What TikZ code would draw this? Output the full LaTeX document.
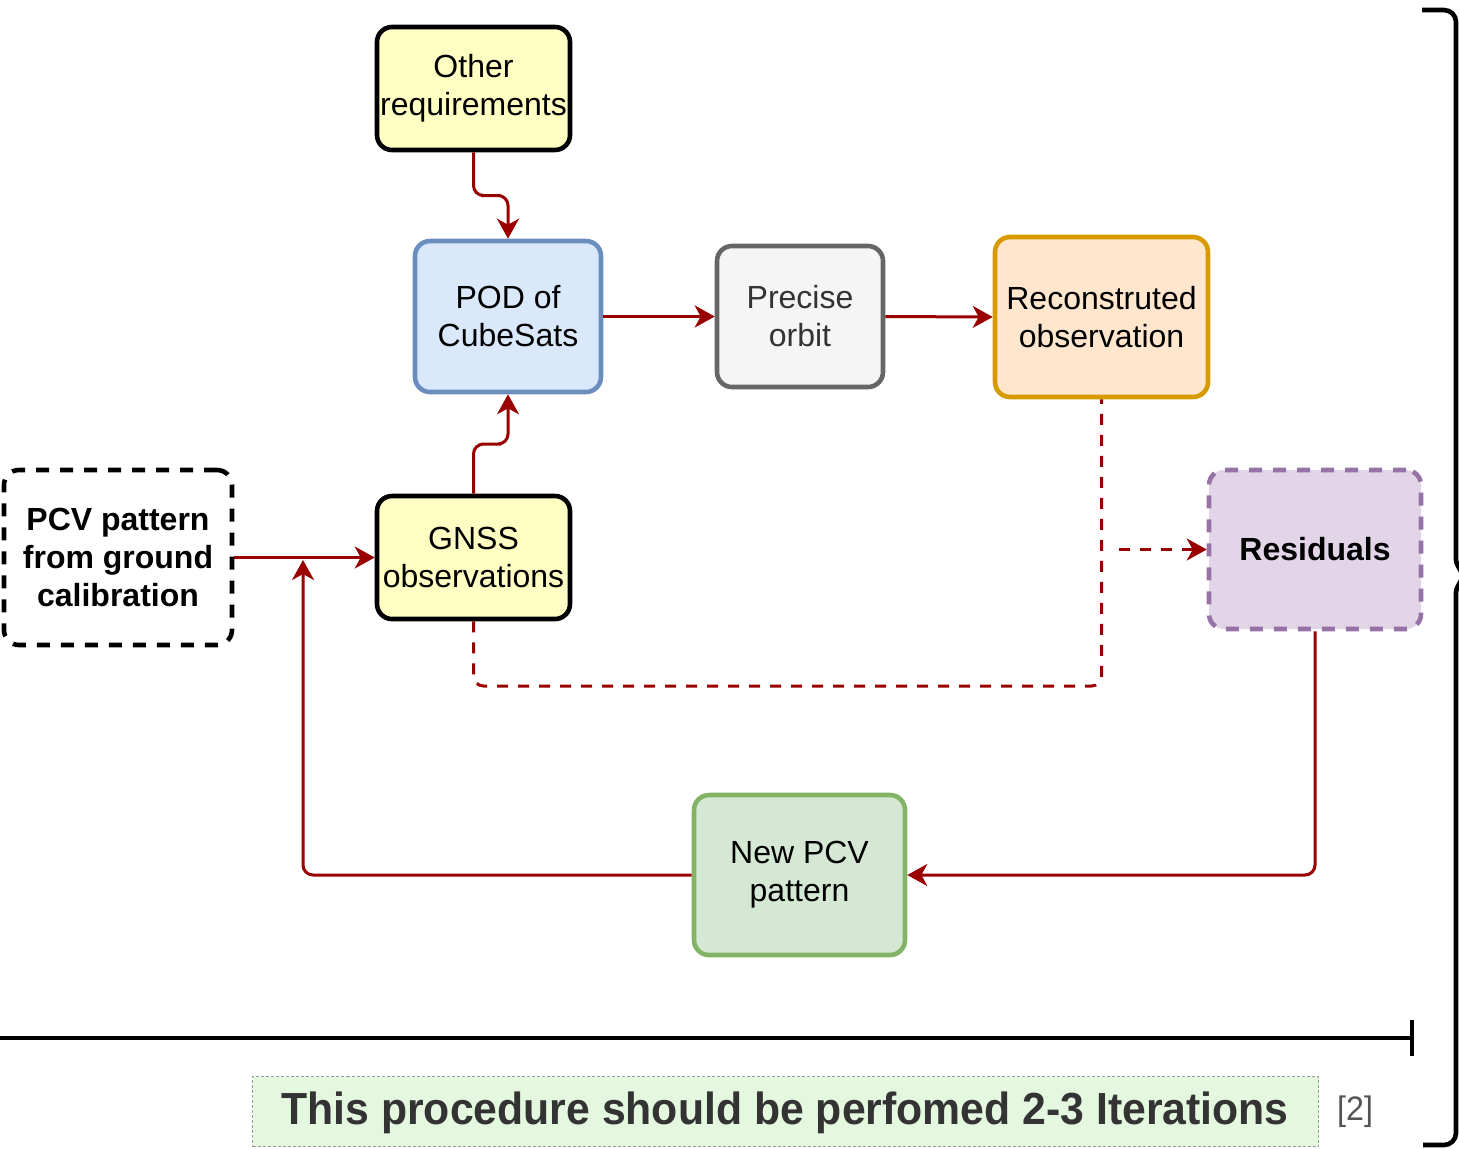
\documentclass[tikz,border=0pt]{standalone}
\usepackage{fontspec}
\setmainfont{Liberation Sans}
\newfontfamily\narrowfont[FakeStretch=0.95]{Liberation Sans}
\usetikzlibrary{arrows.meta,calc}
\definecolor{yel}{HTML}{FFFFC4}
\definecolor{podfill}{HTML}{DAE8FC}
\definecolor{podline}{HTML}{6C8EBF}
\definecolor{prefill}{HTML}{F5F5F5}
\definecolor{preline}{HTML}{666666}
\definecolor{recfill}{HTML}{FFE6CC}
\definecolor{recline}{HTML}{D79B00}
\definecolor{resfill}{HTML}{E1D5E7}
\definecolor{resline}{HTML}{9673A6}
\definecolor{newfill}{HTML}{D5E8D4}
\definecolor{newline}{HTML}{82B366}
\definecolor{darkred}{HTML}{990000}
\definecolor{notefill}{HTML}{E3F8DE}
\definecolor{notetext}{HTML}{333333}
\definecolor{reftext}{HTML}{555555}
\begin{document}
\begin{tikzpicture}[x=0.5pt,y=-0.5pt,
  box/.style={rounded corners=7.5pt, line width=2.3pt, align=center, inner sep=0pt,
    font=\fontsize{16pt}{19pt}\selectfont},
  bdash/.style={dash pattern=on 6.5pt off 5.5pt},
  conn/.style={draw=darkred, line width=1.5pt, rounded corners=5pt,
    -{Stealth[length=10pt,width=11pt,inset=3pt]}},
  rdash/.style={dash pattern=on 5.5pt off 5pt}]
\useasboundingbox (0,0) rectangle (1459,1148);

\node[box, draw=black, fill=yel, minimum width=96.5pt, minimum height=61.5pt] (other) at (473.5,88.5) {Other\\requirements};
\node[box, draw=podline, fill=podfill, minimum width=93pt, minimum height=75.5pt] (pod) at (508,316.5) {POD of\\CubeSats};
\node[box, draw=preline, fill=prefill, text=notetext, minimum width=83pt, minimum height=70.5pt] (precise) at (800,316.5) {Precise\\orbit};
\node[box, draw=recline, fill=recfill, minimum width=106.5pt, minimum height=80pt] (recon) at (1101.5,317) {Reconstruted\\observation};
\node[box, draw=black, fill=yel, minimum width=96.5pt, minimum height=61.5pt] (gnss) at (473.5,557.5) {GNSS\\observations};
\node[box, bdash, draw=black, fill=white, minimum width=114pt, minimum height=87.5pt, font=\fontsize{16pt}{19pt}\selectfont\bfseries] (pcv) at (118,557.5) {PCV pattern\\from ground\\calibration};
\node[box, bdash, draw=resline, fill=resfill, minimum width=106pt, minimum height=79.5pt, font=\fontsize{16pt}{19pt}\selectfont\bfseries] (res) at (1315,549.5) {Residuals};
\node[box, draw=newline, fill=newfill, minimum width=105.5pt, minimum height=80pt] (newpcv) at (799.5,875) {New PCV\\pattern};

% connectors
\draw[conn] (other.south) |- ($(other.south)!0.5!(pod.north)$) -| (pod.north);
\draw[conn] (gnss.north) |- ($(gnss.north)!0.5!(pod.south)$) -| (pod.south);
\draw[conn] (pod.east) -- (precise.west);
\draw[conn] (precise.east) -- (recon.west);
\draw[conn] (pcv.east) -- (gnss.west);
\draw[conn] (res.south) |- (newpcv.east);
\coordinate (join) at (303,560);
\draw[conn] (newpcv.west) -| (join);
\coordinate (dl) at (1101.5,686);
\draw[draw=darkred, line width=1.5pt, rounded corners=5pt, rdash] (gnss.south) |- (dl) -- (recon.south);
\coordinate (ds) at (1119,549.5);
\draw[conn, rdash] (ds) -- (res.west);

% iteration line
\draw[line width=2.2pt] (0,1038) -- (1412,1038);
\draw[line width=2.2pt] (1412,1020) -- (1412,1056);

% brace
\draw[line width=2.3pt, rounded corners=6pt] (1422,10) -- (1456,10) -- (1456,548)
  .. controls (1456,565) and (1462,572) .. (1472,576)
  .. controls (1462,580) and (1456,587) .. (1456,604) -- (1456,1145) -- (1423,1145);

% note
\node[draw=gray!80, dash pattern=on 1.5pt off 1pt, line width=0.5pt, fill=notefill,
  minimum width=533pt, minimum height=35pt, inner sep=0pt, anchor=north west] (note) at (252,1076) {};
\node[text=notetext, font=\narrowfont\fontsize{22.5pt}{26pt}\selectfont\bfseries, inner sep=0pt] (notetxt) at (785,1113) {This procedure should be perfomed 2-3 Iterations};
\node[text=reftext, font=\narrowfont\fontsize{17pt}{20pt}\selectfont, inner sep=0pt] (ref) at (1355,1112) {[2]};
\end{tikzpicture}
\end{document}
